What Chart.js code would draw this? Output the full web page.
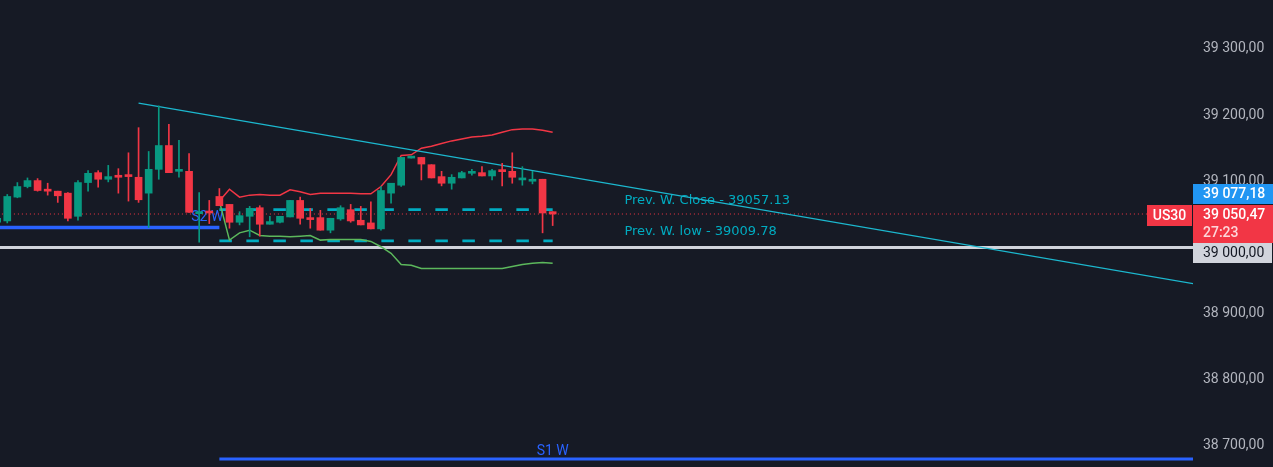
<!DOCTYPE html>
<html lang="en">
<head>
  <meta charset="UTF-8">
  <title>US30</title>
  <style>
    html, body { margin: 0; padding: 0; background: #161a25; overflow: hidden; }
    #wrap { width: 1273px; height: 467px; position: relative; }
  </style>
</head>
<body>
  <div id="wrap"><canvas id="chart"></canvas></div>

  <script src="https://cdn.jsdelivr.net/npm/chart.js"></script>
  <script>
    // candles, one per bar slot
    const opens  = [39038, 39040, 39076, 39092, 39101, 39088, 39085, 39082, 39047, 39098,
                    39113, 39103, 39109, 39109, 39106, 39082, 39118, 39154, 39115, 39115,
                    39051, 39054, 39077, 39065, 39038, 39047, 39060, 39035, 39038, 39046,
                    39071, 39044, 39045, 39026, 39043, 39057, 39041, 39037, 39028, 39082,
                    39094, 39135, 39136, 39125, 39107, 39097, 39105, 39112, 39113, 39108,
                    39116, 39115, 39102, 39100, 39103, 39054];
    const highs  = [39046, 39080, 39098, 39105, 39104, 39097, 39085, 39083, 39101, 39116,
                    39116, 39124, 39119, 39143, 39181, 39145, 39214, 39186, 39162, 39142,
                    39083, 39071, 39089, 39065, 39054, 39062, 39063, 39047, 39047, 39071,
                    39076, 39059, 39056, 39044, 39063, 39065, 39062, 39069, 39092, 39097,
                    39136, 39137, 39136, 39125, 39115, 39110, 39115, 39118, 39122, 39118,
                    39127, 39143, 39122, 39115, 39103, 39054];
    const lows   = [39036, 39037, 39075, 39090, 39085, 39079, 39068, 39040, 39041, 39085,
                    39091, 39099, 39082, 39070, 39068, 39030, 39103, 39113, 39106, 39053,
                    39008, 39036, 39063, 39029, 39034, 39016, 39017, 39035, 39037, 39046,
                    39035, 39029, 39026, 39022, 39041, 39038, 39034, 39028, 39026, 39067,
                    39092, 39135, 39102, 39105, 39093, 39088, 39105, 39109, 39108, 39102,
                    39093, 39097, 39094, 39096, 39022, 39033];
    const closes = [39044, 39077, 39092, 39101, 39086, 39085, 39078, 39044, 39098, 39112,
                    39103, 39107, 39106, 39107, 39072, 39118, 39154, 39113, 39117, 39053,
                    39054, 39052, 39063, 39038, 39048, 39059, 39035, 39039, 39047, 39071,
                    39044, 39042, 39026, 39044, 39060, 39040, 39034, 39028, 39086, 39097,
                    39136, 39136.5, 39126, 39105, 39097, 39106, 39113, 39113.5, 39108, 39116,
                    39114.5, 39106, 39103.5, 39101.5, 39052, 39050.47];

    // envelope bands, starting at candle 22
    const bandStart = 22;
    const upperBand = [39070, 39088, 39076, 39079, 39080, 39079, 39079, 39087, 39084, 39080,
                       39082, 39082, 39082, 39082, 39081, 39081, 39092, 39110, 39139, 39140,
                       39150, 39153, 39157, 39161, 39164, 39167, 39168, 39170, 39174, 39178,
                       39179, 39179, 39177, 39174];
    const lowerBand = [39070, 39011, 39022, 39026, 39018, 39017, 39017, 39016, 39017, 39018,
                       39011, 39012, 39012, 39012, 39012, 39009, 39001, 38991, 38974, 38973,
                       38968, 38968, 38968, 38968, 38968, 38968, 38968, 38968, 38968, 38971,
                       38974, 38976, 38977, 38976];

    // levels
    const prevWeekClose = 39057.13;
    const prevWeekLow = 39009.78;
    const s2Weekly = 39030;
    const s1Weekly = 38680;
    const roundLevel = 39000;
    const trendX = [14, 118.5];
    const trendY = [39218, 38945];
    const lastPrice = 39050.47;
    const bidPrice = 39077.18;
    const countdown = '27:23';
    const symbol = 'US30';
    const yTicks = [38700, 38800, 38900, 39000, 39100, 39200, 39300];

    const xMin = 0.28, xMax = 118.4;
    const last = opens.length - 1;

    const fmt = v => {
      const [a, b] = v.toFixed(2).split('.');
      return a.replace(/\B(?=(\d{3})+(?!\d))/g, ' ') + ',' + b;
    };

    const idx = opens.map((_, i) => i);
    const colors = idx.map(i => closes[i] >= opens[i] ? '#089981' : '#f23645');
    const hLine = (v, x0, x1) => [{x: x0, y: v}, {x: x1, y: v}];
    const line = (data, color, width, order, dash) => ({
      type: 'line', data, borderColor: color, borderWidth: width,
      borderDash: dash || [], pointRadius: 0, order, clip: 0
    });

    const levelColor = '#00acc1';

    const overlay = {
      id: 'overlay',
      beforeDatasetsDraw(chart) {
        const {ctx, scales: {x, y}} = chart;
        ctx.save();
        ctx.textBaseline = 'middle';
        ctx.font = '13px "DejaVu Sans"';
        ctx.fillStyle = levelColor;
        ctx.textAlign = 'left';
        ctx.fillText('Prev. W. Close - ' + prevWeekClose, x.getPixelForValue(62.1), y.getPixelForValue(prevWeekClose) - 9);
        ctx.fillText('Prev. W. low - ' + prevWeekLow, x.getPixelForValue(62.1), y.getPixelForValue(prevWeekLow) - 9);

        ctx.font = '14px Roboto';
        ctx.fillStyle = '#2962ff';
        ctx.textAlign = 'right';
        ctx.fillText('S2 W', x.getPixelForValue(bandStart) + 4, y.getPixelForValue(s2Weekly) - 10);
        ctx.textAlign = 'center';
        ctx.fillText('S1 W', x.getPixelForValue(last), y.getPixelForValue(s1Weekly) - 8);
        ctx.restore();
      },
      afterDraw(chart) {
        const {ctx, chartArea, scales: {y}} = chart;
        const left = chartArea.right;
        const w = chart.width - left;
        const redTop = Math.round(y.getPixelForValue(lastPrice)) - 9;
        ctx.save();
        ctx.textBaseline = 'middle';
        ctx.font = '500 14px Roboto';

        // bid box, pushed above the price box
        ctx.fillStyle = '#2196f3';
        ctx.fillRect(left, redTop - 21, w, 20);
        ctx.fillStyle = '#ffffff';
        ctx.textAlign = 'left';
        ctx.fillText(fmt(bidPrice), left + 10, redTop - 11);

        // last price box with countdown
        ctx.fillStyle = '#f23645';
        ctx.fillRect(left, redTop, w, 38);
        ctx.fillStyle = '#ffffff';
        ctx.fillText(fmt(lastPrice), left + 10, redTop + 10);
        ctx.fillStyle = 'rgba(255,255,255,0.8)';
        ctx.fillText(countdown, left + 10, redTop + 28);

        // symbol tag
        ctx.fillStyle = '#f23645';
        ctx.fillRect(left - 46, redTop, 45, 21);
        ctx.fillStyle = '#ffffff';
        ctx.textAlign = 'center';
        ctx.fillText(symbol, left - 23.5, redTop + 11);

        // round level box
        ctx.fillStyle = '#d1d4dc';
        ctx.fillRect(left, redTop + 38, w - 1, 20);
        ctx.fillStyle = '#131722';
        ctx.textAlign = 'left';
        ctx.font = '14px Roboto';
        ctx.fillText(fmt(roundLevel), left + 10, redTop + 48);
        ctx.restore();
      }
    };

    new Chart(document.getElementById('chart'), {
      type: 'bar',
      data: {
        datasets: [
          {
            data: idx.map(i => ({x: i, y: [opens[i], closes[i]]})),
            backgroundColor: colors, barThickness: 7, minBarLength: 2,
            grouped: false, borderWidth: 0, order: 0
          },
          {
            data: idx.map(i => ({x: i, y: [lows[i], highs[i]]})),
            backgroundColor: colors, barThickness: 1,
            grouped: false, borderWidth: 0, order: 1
          },
          line([{x: trendX[0], y: trendY[0]}, {x: trendX[1], y: trendY[1]}], '#1cb8cf', 1.3, 2),
          line(upperBand.map((v, k) => ({x: bandStart + k, y: v})), '#f23645', 1.5, 3),
          line(lowerBand.map((v, k) => ({x: bandStart + k, y: v})), '#5cb85c', 1.5, 3),
          line(hLine(prevWeekClose, bandStart, last), levelColor, 2.8, 4, [12.5, 14.5]),
          line(hLine(prevWeekLow, bandStart, last), levelColor, 2.8, 4, [12.5, 14.5]),
          line(hLine(s2Weekly, xMin - 1, bandStart), '#2962ff', 3.5, 5),
          line(hLine(s1Weekly, bandStart, xMax + 1), '#2962ff', 3, 5),
          line(hLine(roundLevel, xMin - 1, xMax + 1), '#d1d4dc', 3, 6),
          line(hLine(lastPrice, xMin - 1, xMax + 1), '#f23645', 1, 6, [1, 3])
        ]
      },
      options: {
        responsive: true,
        maintainAspectRatio: false,
        animation: false,
        layout: { padding: 0 },
        plugins: { legend: { display: false }, tooltip: { enabled: false } },
        scales: {
          x: { type: 'linear', min: xMin, max: xMax, offset: false, display: false },
          y: {
            position: 'right',
            min: 38668,
            max: 39374,
            beginAtZero: false,
            grid: { display: false, drawTicks: false },
            border: { display: false },
            ticks: {
              color: '#b2b5be',
              font: { family: 'Roboto', size: 14 },
              padding: 10,
              callback: v => fmt(v)
            },
            afterBuildTicks: s => { s.ticks = yTicks.map(v => ({value: v})); },
            afterFit: s => { s.width = 80; s.paddingTop = 0; s.paddingBottom = 0; }
          }
        }
      },
      plugins: [overlay]
    });
  </script>
</body>
</html>
